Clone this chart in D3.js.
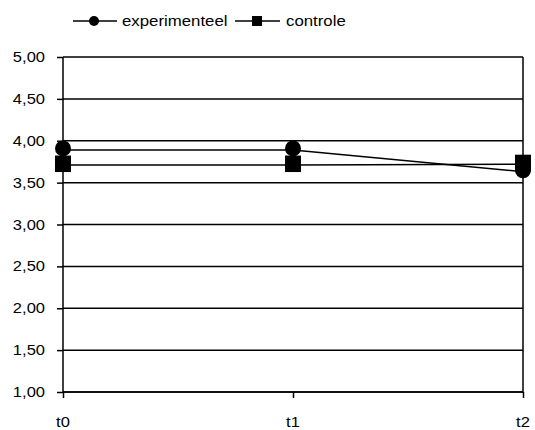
<!DOCTYPE html>
<html><head><meta charset="utf-8">
<script src="https://cdn.jsdelivr.net/npm/d3@7"></script>
<style>body{margin:0;background:#fff}svg{display:block}text{font-family:"Liberation Sans",Arial,sans-serif;fill:#000}</style>
</head><body><svg id="c" width="535" height="430"></svg>
<script>
const categories = ["t0", "t1", "t2"];
const seriesNames = ["experimenteel", "controle"];
const experimenteel = [3.89, 3.89, 3.63];
const controle = [3.71, 3.71, 3.72];
const yTicks = [1.0, 1.5, 2.0, 2.5, 3.0, 3.5, 4.0, 4.5, 5.0];

const svg = d3.select("#c");
const L = 63, R = 523, T = 57, B = 392;
const x = d3.scalePoint().domain(categories).range([L, R]);
const y = d3.scaleLinear().domain([1, 5]).range([B, T]);
const fmt = d3.formatLocale({decimal: ",", thousands: ".", grouping: [3], currency: ["€", ""]}).format(".2f");
const SX = 1.18, FS = 14;

// gridlines
svg.append("g").selectAll("line").data(yTicks).join("line")
  .attr("x1", L).attr("x2", R).attr("y1", d => y(d)).attr("y2", d => y(d))
  .attr("stroke", "#000").attr("stroke-width", 1.5);

// left axis
const ay = svg.append("g").attr("transform", `translate(${L},0)`)
  .call(d3.axisLeft(y).tickValues(yTicks).tickSize(6).tickFormat(""));
ay.select(".domain").attr("d", `M0,${T}V${B}`).attr("stroke-width", 1.5);
ay.selectAll(".tick line").attr("stroke-width", 1.5);
// y labels (stretched)
svg.append("g").selectAll("g").data(yTicks).join("g")
  .attr("transform", d => `translate(45,${y(d) + 5}) scale(${SX},1)`)
  .append("text").attr("text-anchor", "end").attr("font-size", FS).text(d => fmt(d));

// bottom axis
const ax = svg.append("g").attr("transform", `translate(0,${B})`)
  .call(d3.axisBottom(x).tickSize(6).tickFormat(""));
ax.select(".domain").attr("d", `M${L},0H${R}`).attr("stroke-width", 1.5);
ax.selectAll(".tick line").attr("stroke-width", 1.5);
svg.append("g").selectAll("g").data(categories).join("g")
  .attr("transform", d => `translate(${x(d)},427) scale(${SX},1)`)
  .append("text").attr("text-anchor", "middle").attr("font-size", FS).text(d => d);

// right border
svg.append("line").attr("x1", R).attr("x2", R).attr("y1", T).attr("y2", B)
  .attr("stroke", "#000").attr("stroke-width", 1.5);

// series
const line = d3.line().x((d, i) => x(categories[i])).y(d => y(d));
svg.append("path").datum(experimenteel).attr("d", line).attr("fill", "none").attr("stroke", "#000").attr("stroke-width", 1.5);
svg.append("path").datum(controle).attr("d", line).attr("fill", "none").attr("stroke", "#000").attr("stroke-width", 1.5);
svg.append("g").selectAll("circle").data(experimenteel).join("circle")
  .attr("cx", (d, i) => x(categories[i])).attr("cy", d => y(d) - 1.5).attr("r", 8).attr("fill", "#000");
svg.append("g").selectAll("rect").data(controle).join("rect")
  .attr("x", (d, i) => x(categories[i]) - 8).attr("y", d => y(d) - 9.5).attr("width", 16).attr("height", 16.5).attr("fill", "#000");

// legend
const lg = svg.append("g");
const ly = 21;
lg.append("line").attr("x1", 73).attr("x2", 117).attr("y1", ly).attr("y2", ly).attr("stroke", "#000").attr("stroke-width", 1.5);
lg.append("circle").attr("cx", 94).attr("cy", ly).attr("r", 5).attr("fill", "#000");
lg.append("g").attr("transform", `translate(122,${ly + 5}) scale(1.2,1)`).append("text").attr("font-size", FS).text(seriesNames[0]);
lg.append("line").attr("x1", 235).attr("x2", 280).attr("y1", ly).attr("y2", ly).attr("stroke", "#000").attr("stroke-width", 1.5);
lg.append("rect").attr("x", 252).attr("y", ly - 5).attr("width", 10).attr("height", 10).attr("fill", "#000");
lg.append("g").attr("transform", `translate(286,${ly + 5}) scale(1.2,1)`).append("text").attr("font-size", FS).text(seriesNames[1]);
</script></body></html>
